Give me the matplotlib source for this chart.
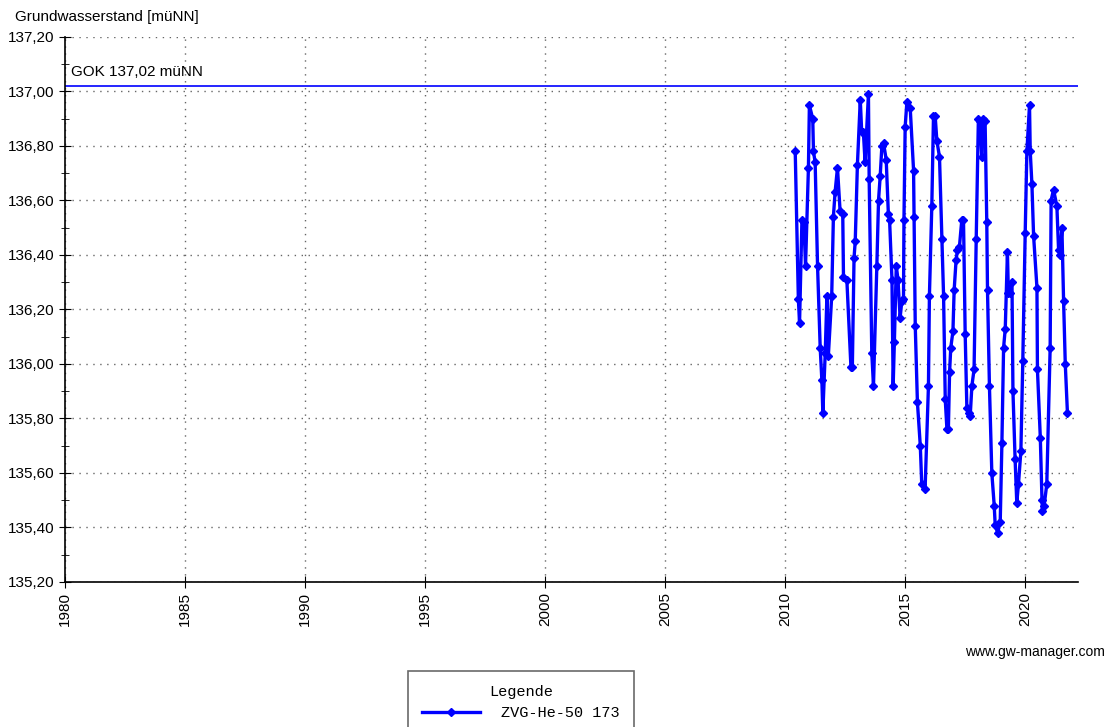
import matplotlib.pyplot as plt
from matplotlib.ticker import MultipleLocator, FuncFormatter
from matplotlib.lines import Line2D

plt.rcParams['font.family'] = ['Liberation Sans', 'DejaVu Sans']

# Messreihe ZVG-He-50 (Zeit als Dezimaljahr, Wasserstand in muNN)
years = [
    2010.42, 2010.55, 2010.60, 2010.70, 2010.78, 2010.85, 2010.97, 2011.01,
    2011.15, 2011.18, 2011.25, 2011.35, 2011.46, 2011.53, 2011.57, 2011.67,
    2011.74, 2011.80, 2011.94, 2012.01, 2012.08, 2012.18, 2012.29, 2012.40,
    2012.43, 2012.57, 2012.74, 2012.80, 2012.87, 2012.92, 2013.01, 2013.13,
    2013.19, 2013.26, 2013.33, 2013.47, 2013.50, 2013.61, 2013.68, 2013.82,
    2013.89, 2013.96, 2014.03, 2014.10, 2014.21, 2014.30, 2014.35, 2014.45,
    2014.50, 2014.55, 2014.63, 2014.70, 2014.79, 2014.86, 2014.93, 2014.95,
    2015.00, 2015.07, 2015.21, 2015.35, 2015.37, 2015.42, 2015.51, 2015.63,
    2015.69, 2015.83, 2015.97, 2016.01, 2016.11, 2016.18, 2016.25, 2016.32,
    2016.43, 2016.53, 2016.60, 2016.67, 2016.74, 2016.80, 2016.85, 2016.90,
    2016.99, 2017.04, 2017.12, 2017.18, 2017.26, 2017.36, 2017.43, 2017.50,
    2017.57, 2017.64, 2017.71, 2017.78, 2017.87, 2017.96, 2018.05, 2018.13,
    2018.19, 2018.26, 2018.33, 2018.40, 2018.43, 2018.51, 2018.61, 2018.71,
    2018.75, 2018.85, 2018.96, 2019.03, 2019.10, 2019.17, 2019.26, 2019.30,
    2019.37, 2019.45, 2019.49, 2019.58, 2019.65, 2019.72, 2019.82, 2019.90,
    2020.00, 2020.07, 2020.18, 2020.21, 2020.28, 2020.35, 2020.49, 2020.51,
    2020.63, 2020.70, 2020.72, 2020.79, 2020.90, 2021.04, 2021.08, 2021.18,
    2021.32, 2021.39, 2021.46, 2021.53, 2021.60, 2021.67, 2021.76,
]
levels = [
    136.78, 136.24, 136.15, 136.53, 136.52, 136.36, 136.72, 136.95,
    136.90, 136.78, 136.74, 136.36, 136.06, 135.94, 135.82, 136.04,
    136.25, 136.03, 136.25, 136.54, 136.63, 136.72, 136.56, 136.55,
    136.32, 136.31, 135.99, 135.99, 136.39, 136.45, 136.73, 136.97,
    136.85, 136.85, 136.74, 136.99, 136.68, 136.04, 135.92, 136.36,
    136.60, 136.69, 136.80, 136.81, 136.75, 136.55, 136.53, 136.31,
    135.92, 136.08, 136.36, 136.31, 136.17, 136.23, 136.24, 136.53,
    136.87, 136.96, 136.94, 136.71, 136.54, 136.14, 135.86, 135.70,
    135.56, 135.54, 135.92, 136.25, 136.58, 136.91, 136.91, 136.82,
    136.76, 136.46, 136.25, 135.87, 135.76, 135.76, 135.97, 136.06,
    136.12, 136.27, 136.38, 136.42, 136.43, 136.53, 136.53, 136.11,
    135.84, 135.82, 135.81, 135.92, 135.98, 136.46, 136.90, 136.89,
    136.76, 136.90, 136.89, 136.52, 136.27, 135.92, 135.60, 135.48,
    135.41, 135.38, 135.42, 135.71, 136.06, 136.13, 136.41, 136.26,
    136.26, 136.30, 135.90, 135.65, 135.49, 135.56, 135.68, 136.01,
    136.48, 136.78, 136.95, 136.78, 136.66, 136.47, 136.28, 135.98,
    135.73, 135.50, 135.46, 135.48, 135.56, 136.06, 136.60, 136.64,
    136.58, 136.42, 136.40, 136.50, 136.23, 136.00, 135.82,
]
gok = 137.02
series_name = 'ZVG-He-50 173'

fig = plt.figure(figsize=(11.12, 7.27), dpi=100)
ax = fig.add_axes([65 / 1112, 145 / 727, 1013 / 1112, 545 / 727])

ax.plot(years, levels, color='#0000ff', lw=2.4, marker='D', ms=4,
        mec='#0000ff', mfc='#0000ff', zorder=3)
ax.axhline(gok, color='#0000ff', lw=1.2, zorder=2)
ax.text(1980.25, gok + 0.025, 'GOK 137,02 müNN', fontsize=11, va='bottom')

ax.set_xlim(1980, 2022.2)
ax.set_ylim(135.2, 137.2)
ax.xaxis.set_major_locator(MultipleLocator(5))
ax.yaxis.set_major_locator(MultipleLocator(0.2))
ax.yaxis.set_minor_locator(MultipleLocator(0.1))
ax.yaxis.set_major_formatter(FuncFormatter(lambda v, p: f'{v:.2f}'.replace('.', ',')))
ax.xaxis.set_major_formatter(FuncFormatter(lambda v, p: f'{v:.0f}'))
ax.tick_params(axis='x', labelrotation=90, labelsize=11, direction='inout', length=8)
ax.tick_params(axis='y', which='major', labelsize=11, direction='inout', length=8)
ax.tick_params(axis='y', which='minor', direction='inout', length=6)

ax.grid(True, which='major', color='#666666', ls=(0, (1, 4)), lw=1)
for s in ('top', 'right'):
    ax.spines[s].set_visible(False)
for s in ('left', 'bottom'):
    ax.spines[s].set_linewidth(1.2)

fig.text(15 / 1112, 1 - 17 / 727, 'Grundwasserstand [müNN]', fontsize=11, va='center')
fig.text(1105 / 1112, 1 - 652 / 727, 'www.gw-manager.com', fontsize=10, ha='right', va='center')

# Legendenkasten unten, ragt ueber den Bildrand hinaus
handle = Line2D([], [], color='#0000ff', lw=2.4, marker='D', ms=4)
leg = fig.legend([handle], [series_name], title='Legende', loc='upper left',
                 bbox_to_anchor=(408 / 1112, 1 - 671 / 727), frameon=True,
                 fancybox=False, edgecolor='#444444', borderpad=0.9,
                 handlelength=3.8, handletextpad=1.4, borderaxespad=0,
                 prop={'family': 'Liberation Mono', 'size': 11},
                 title_fontproperties={'family': 'Liberation Mono', 'size': 11})
leg.get_frame().set_linewidth(1.2)

fig.savefig('out.png', dpi=100)
